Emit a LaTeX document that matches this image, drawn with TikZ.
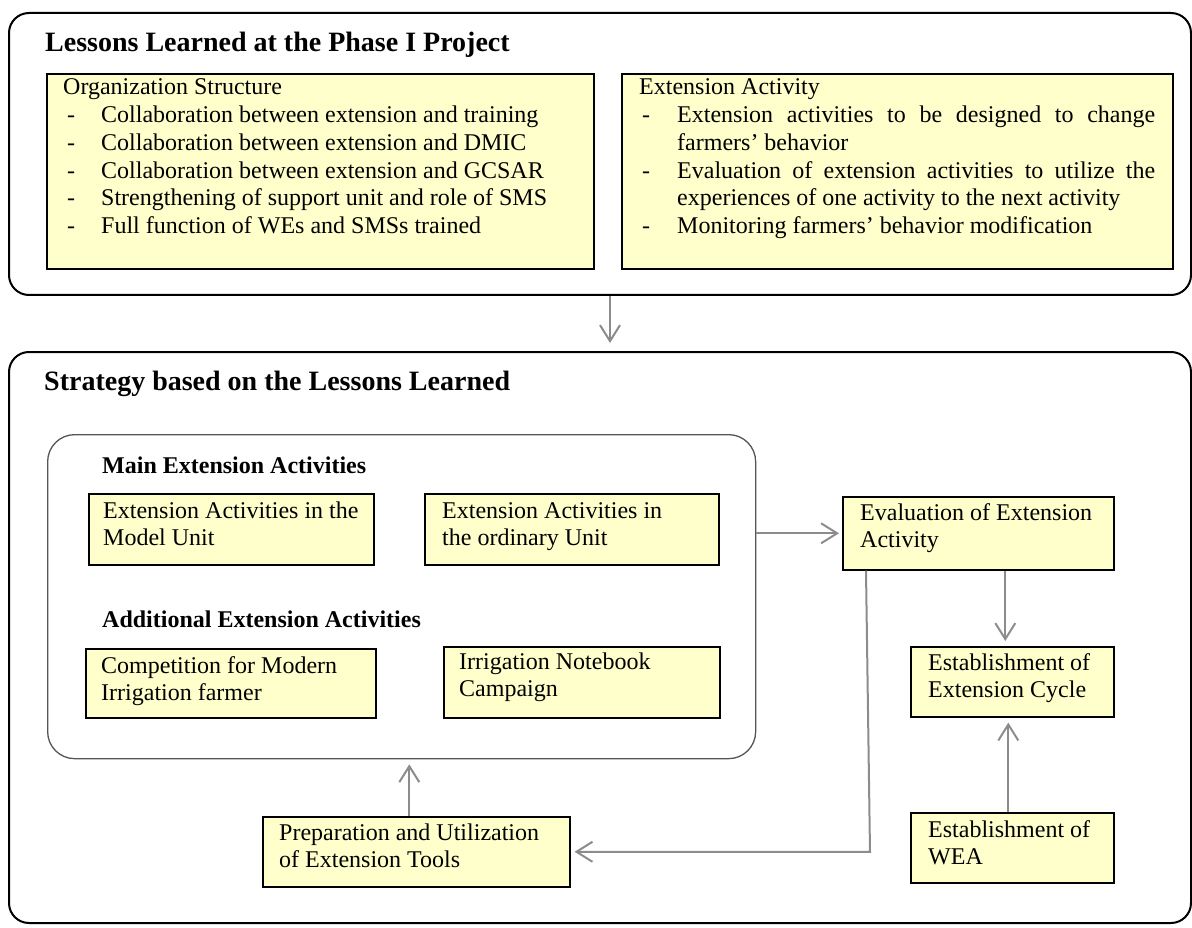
\documentclass[tikz,border=0pt]{standalone}
\usepackage{fontspec}
\setmainfont{Liberation Serif}
\usetikzlibrary{arrows.meta,calc}
\definecolor{boxfill}{HTML}{FFFFCC}
\definecolor{linkgray}{HTML}{8C8C8C}
\definecolor{framegray}{HTML}{555555}
\newcommand\bodyfont{\fontsize{24}{27.75}\selectfont}
\newcommand\headfont{\fontsize{28}{32}\selectfont\bfseries}
\newcommand\subheadfont{\fontsize{24}{27.75}\selectfont\bfseries}
% a bullet line: dash, then the item text at a fixed indent
\newcommand\dashline[2][4pt]{\makebox[38pt][l]{\hspace{#1}-}#2}
\newcommand\twolines[2]{\parbox[t]{400pt}{#1\\#2}}

\begin{document}
\begin{tikzpicture}[x=1pt,y=-1pt,
  panel/.style={draw=black, line width=2pt, rounded corners=20pt, anchor=north west, inner sep=0pt},
  group/.style={draw=framegray, line width=1.3pt, rounded corners=27pt, anchor=north west, inner sep=0pt},
  ybox/.style={draw=black, line width=1.6pt, fill=boxfill, anchor=north west, inner sep=0pt},
  lbl/.style={anchor=base west, inner sep=0pt, font=\bodyfont},
  head/.style={anchor=base west, inner sep=0pt, font=\headfont},
  subhead/.style={anchor=base west, inner sep=0pt, font=\subheadfont},
  conn/.style={draw=linkgray, line width=2pt, -{Straight Barb[length=16pt,width=20pt]}},
]
\useasboundingbox (0,0) rectangle (1192,928);

% ---------- upper panel ----------
\node[panel, minimum width=1182pt, minimum height=282pt] (lessons) at (8,12) {};
\node[head] (lessonsTitle) at (45,52) {Lessons Learned at the Phase I Project};

\node[ybox, minimum width=547pt, minimum height=195pt] (org) at (46,73) {};
\node[lbl] (orgText) at (63,95) {\parbox[t]{520pt}{Organization Structure\\
  \dashline{Collaboration between extension and training}\\
  \dashline{Collaboration between extension and DMIC}\\
  \dashline{Collaboration between extension and GCSAR}\\
  \dashline{Strengthening of support unit and role of SMS}\\
  \dashline{Full function of WEs and SMSs trained}}};

\node[ybox, minimum width=551pt, minimum height=195pt] (ext) at (621,73) {};
\node[lbl] (extText) at (639,95) {\parbox[t]{520pt}{Extension Activity\\
  \dashline[3pt]{\makebox[478pt][s]{Extension activities to be designed to change}}\\
  \hspace*{38pt}farmers’ behavior\\
  \dashline[3pt]{\makebox[478pt][s]{Evaluation of extension activities to utilize the}}\\
  \hspace*{38pt}experiences of one activity to the next activity\\
  \dashline[3pt]{Monitoring farmers’ behavior modification}}};

% ---------- lower panel ----------
\node[panel, minimum width=1182pt, minimum height=571pt] (strategy) at (8,351) {};
\node[head] (strategyTitle) at (44,390) {Strategy based on the Lessons Learned};

\node[group, minimum width=708pt, minimum height=324pt] (activities) at (47,434) {};
\node[subhead] (mainHead) at (102,473) {Main Extension Activities};
\node[ybox, minimum width=285pt, minimum height=71pt] (model) at (88,493) {};
\node[lbl] (modelText) at (103,518) {\twolines{Extension Activities in the}{Model Unit}};
\node[ybox, minimum width=294pt, minimum height=71pt] (ordinary) at (424,493) {};
\node[lbl] (ordinaryText) at (442,518) {\twolines{Extension Activities in}{the ordinary Unit}};

\node[subhead] (addHead) at (102,627) {Additional Extension Activities};
\node[ybox, minimum width=290pt, minimum height=69pt] (compet) at (85,648) {};
\node[lbl] (competText) at (101,673) {\twolines{Competition for Modern}{Irrigation farmer}};
\node[ybox, minimum width=276pt, minimum height=71pt] (notebook) at (443,646) {};
\node[lbl] (notebookText) at (459,669) {\twolines{Irrigation Notebook}{Campaign}};

\node[ybox, minimum width=271pt, minimum height=73pt] (eval) at (842,496) {};
\node[lbl] (evalText) at (860,520) {\twolines{Evaluation of Extension}{Activity}};

\node[ybox, minimum width=203pt, minimum height=70pt] (cycle) at (910,646) {};
\node[lbl] (cycleText) at (928,670) {\twolines{Establishment of}{Extension Cycle}};

\node[ybox, minimum width=203pt, minimum height=70pt] (wea) at (910,812) {};
\node[lbl] (weaText) at (928,837) {\twolines{Establishment of}{WEA}};

\node[ybox, minimum width=307pt, minimum height=70pt] (prep) at (262,816) {};
\node[lbl] (prepText) at (279,840) {\twolines{Preparation and Utilization}{of Extension Tools}};

% ---------- connectors ----------
\coordinate (downX) at ([xshift=10pt]lessons.south);
\draw[conn, shorten >=8pt] (downX) -- (downX |- strategy.north);

\draw[conn, shorten >=3pt] (activities.east |- eval.west) -- (eval.west);

\coordinate (cycleIn) at ([xshift=-7pt]cycle.north);
\draw[conn, shorten >=5pt] (cycleIn |- eval.south) -- (cycleIn);

\coordinate (weaOut) at ([xshift=-4pt]wea.north);
\draw[conn, shorten >=5pt] (weaOut) -- (weaOut |- cycle.south);

\coordinate (fbStart) at ([xshift=24pt]eval.south west);
\coordinate (fbCorner) at ([xshift=28pt]eval.south west);
\draw[conn, shorten >=4pt] (fbStart) -- (fbCorner |- prep.east) -- (prep.east);

\coordinate (prepOut) at ([xshift=-7pt]prep.north);
\draw[conn, shorten >=5pt] (prepOut) -- (prepOut |- activities.south);
\end{tikzpicture}
\end{document}
